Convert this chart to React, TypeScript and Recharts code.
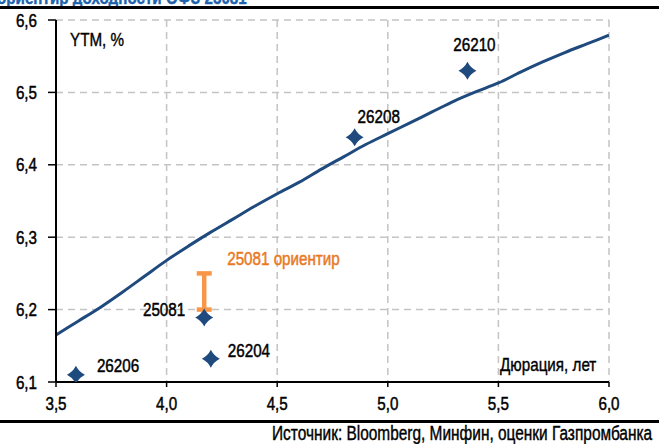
import React from 'react';
import {
  ComposedChart,
  Line,
  Scatter,
  ErrorBar,
  LabelList,
  CartesianGrid,
  XAxis,
  YAxis,
} from 'recharts';

// кривая ОФЗ (дюрация, лет -> YTM, %)
const curveDur = [3.5, 3.6, 3.7, 3.8, 3.9, 4.0, 4.1, 4.2, 4.3, 4.4, 4.5, 4.6, 4.7, 4.8, 4.9, 5.0, 5.1, 5.2, 5.3, 5.4, 5.5, 5.6, 5.7, 5.8, 5.9, 6.0];
const curveYtm = [6.165, 6.184, 6.203, 6.224, 6.246, 6.268, 6.288, 6.307, 6.325, 6.343, 6.36, 6.376, 6.394, 6.411, 6.428, 6.443, 6.458, 6.473, 6.488, 6.501, 6.513, 6.528, 6.542, 6.555, 6.567, 6.579];

// выпуски
const bondNames = ['26206', '26204', '25081', '26208', '26210'];
const bondDur = [3.59, 4.2, 4.17, 4.85, 5.36];
const bondYtm = [6.11, 6.132, 6.189, 6.438, 6.53];

// ориентир 25081
const guideDur = 4.17;
const guideLow = 6.2;
const guideHigh = 6.25;

const xTicks = [3.5, 4.0, 4.5, 5.0, 5.5, 6.0];
const yTicks = [6.1, 6.2, 6.3, 6.4, 6.5, 6.6];

const curve = curveDur.map((x, i) => ({ x, y: curveYtm[i] }));
const bonds = bondNames.map((name, i) => ({ name, x: bondDur[i], y: bondYtm[i] }));
const guide = [
  {
    name: '25081 ориентир',
    x: guideDur,
    y: (guideLow + guideHigh) / 2,
    err: (guideHigh - guideLow) / 2,
  },
];

const FONT = "'Liberation Sans', Arial, sans-serif";
const SQ = 0.8; // узкий шрифт: сжимаем по горизонтали
const BLUE = '#1f4a7e';

// где ставить подпись относительно точки
const labelPlace: Record<string, { dx: number; dy: number; anchor: 'start' | 'end' | 'middle' }> = {
  '26206': { dx: 21, dy: -9, anchor: 'start' },
  '26204': { dx: 17, dy: -8, anchor: 'start' },
  '25081': { dx: -19, dy: -8, anchor: 'end' },
  '26208': { dx: 3, dy: -21, anchor: 'start' },
  '26210': { dx: 7, dy: -26, anchor: 'middle' },
};

const fmt = (v: number) => v.toFixed(1).replace('.', ',');

const NText = ({ x, y, anchor = 'start', dy = '0.35em', fill = '#000', size = 19, children }: any) => (
  <g transform={`translate(${x},${y})`}>
    <text
      transform={`scale(${SQ},1)`}
      textAnchor={anchor}
      dy={dy}
      fontFamily={FONT}
      fontSize={size}
      fill={fill}
      stroke={fill}
      strokeWidth={0.5}
    >
      {children}
    </text>
  </g>
);

const XTick = ({ x, y, payload }: any) => (
  <NText x={x} y={y} anchor="middle" dy="0.71em">
    {fmt(payload.value)}
  </NText>
);

const YTick = ({ x, y, payload }: any) => (
  <NText x={x} y={y} anchor="end">
    {fmt(payload.value)}
  </NText>
);

const Diamond = (props: any) => {
  const { cx, cy } = props;
  const r = 9;
  const c = 3;
  const d = `M${cx},${cy - r} Q${cx + c},${cy - c} ${cx + r},${cy} Q${cx + c},${cy + c} ${cx},${cy + r} Q${cx - c},${cy + c} ${cx - r},${cy} Q${cx - c},${cy - c} ${cx},${cy - r} Z`;
  return <path d={d} fill={BLUE} />;
};

const BondLabel = (props: any) => {
  const { x, y, width, height, value } = props;
  const p = labelPlace[value] || { dx: 10, dy: -10, anchor: 'start' };
  const cx = x + (width || 0) / 2;
  const cy = y + (height || 0) / 2;
  return (
    <NText x={cx + p.dx} y={cy + p.dy} anchor={p.anchor}>
      {value}
    </NText>
  );
};

const GuideLabel = (props: any) => {
  const { x, y, width, height, value } = props;
  const cx = x + (width || 0) / 2;
  const cy = y + (height || 0) / 2;
  return (
    <NText x={cx + 23} y={cy - 33} fill="#e8791f">
      {value}
    </NText>
  );
};

const squeeze = (origin: string): React.CSSProperties => ({
  transform: `scaleX(${SQ})`,
  transformOrigin: origin,
  whiteSpace: 'nowrap',
  position: 'absolute',
  WebkitTextStroke: '0.4px currentColor',
});

export default function App() {
  return (
    <div style={{ position: 'relative', width: 659, height: 444, overflow: 'hidden', fontFamily: FONT, background: '#fff' }}>
      <style>{'body{margin:0}'}</style>
      <div style={{ ...squeeze('left'), left: -3, top: -13, fontSize: 19, fontWeight: 'bold', color: '#1c62ad' }}>
        ориентир доходности ОФЗ 25081
      </div>
      <div style={{ position: 'absolute', left: 0, top: 6, width: 659, height: 2.5, background: '#000' }} />

      <div style={{ position: 'absolute', left: 0, top: 0 }}>
        <ComposedChart width={659} height={420} margin={{ top: 20, right: 50, bottom: 0, left: 0 }}>
          <CartesianGrid strokeDasharray="7 5" stroke="#c4c4c4" strokeWidth={1.5} />
          <XAxis
            type="number"
            dataKey="x"
            domain={[3.5, 6]}
            ticks={xTicks}
            allowDataOverflow
            height={38}
            tickSize={5}
            tickMargin={10}
            axisLine={{ stroke: '#000', strokeWidth: 2 }}
            tickLine={{ stroke: '#000', strokeWidth: 1.5 }}
            tick={XTick}
          />
          <YAxis
            type="number"
            dataKey="y"
            domain={[6.1, 6.6]}
            ticks={yTicks}
            allowDataOverflow
            width={56}
            tickSize={8}
            tickMargin={11}
            axisLine={{ stroke: '#000', strokeWidth: 2 }}
            tickLine={{ stroke: '#000', strokeWidth: 1.5 }}
            tick={YTick}
          />
          <Line
            data={curve}
            dataKey="y"
            type="monotone"
            stroke={BLUE}
            strokeWidth={3}
            dot={false}
            activeDot={false}
            isAnimationActive={false}
          />
          <Scatter data={guide} dataKey="y" shape={() => <g />} isAnimationActive={false}>
            <ErrorBar dataKey="err" direction="y" width={7.5} strokeWidth={4.5} stroke="#f79646" />
            <LabelList dataKey="name" content={GuideLabel} />
          </Scatter>
          <Scatter data={bonds} dataKey="y" shape={Diamond} isAnimationActive={false}>
            <LabelList dataKey="name" content={BondLabel} />
          </Scatter>
        </ComposedChart>
      </div>

      <div style={{ ...squeeze('left'), left: 70, top: 29, fontSize: 19, color: '#000' }}>YTM, %</div>
      <div style={{ ...squeeze('right'), right: 63, top: 354, fontSize: 19, color: '#000' }}>Дюрация, лет</div>

      <div style={{ position: 'absolute', left: 0, top: 420, width: 659, height: 2.5, background: '#000' }} />
      <div style={{ ...squeeze('right'), right: 7, top: 423, fontSize: 19.3, color: '#000' }}>
        Источник: Bloomberg, Минфин, оценки Газпромбанка
      </div>
    </div>
  );
}
